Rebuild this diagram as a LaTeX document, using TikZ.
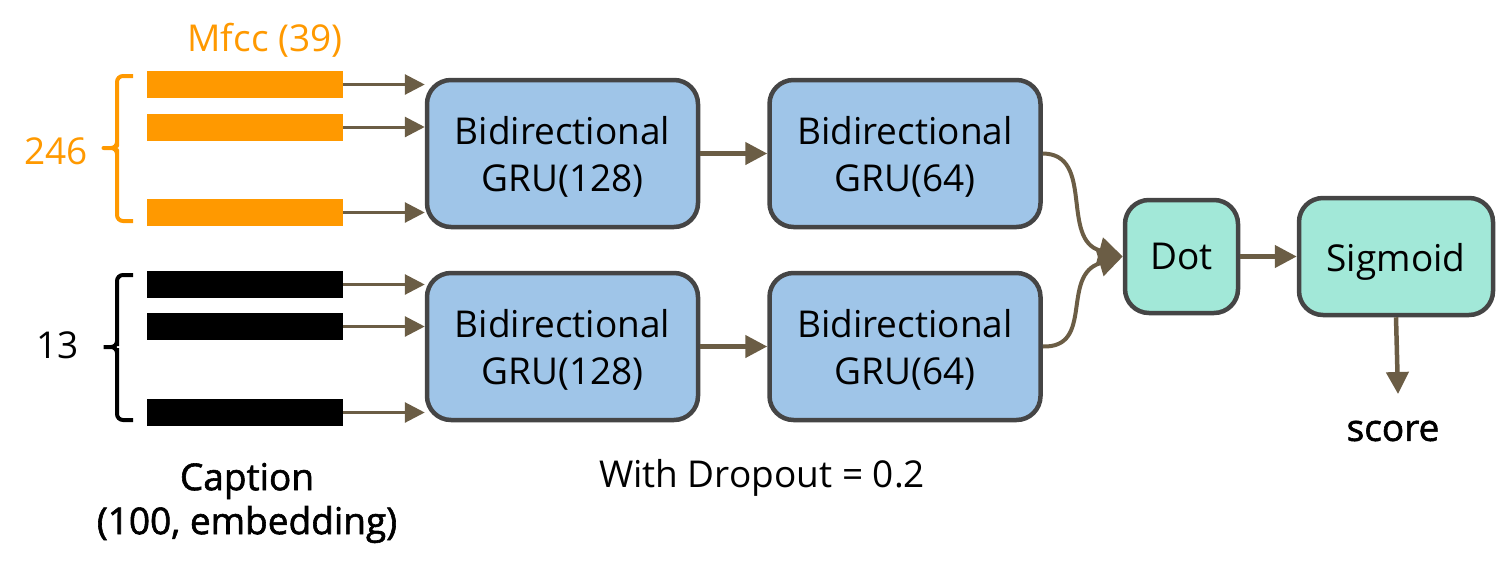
\documentclass[tikz,border=0pt]{standalone}
\usepackage{fontspec}
\setmainfont{Open Sans}
\newfontfamily\semib[FakeBold=1.6]{Open Sans}
\usetikzlibrary{arrows.meta}
\definecolor{orng}{HTML}{FF9900}
\definecolor{arr}{HTML}{6B5D45}
\definecolor{bluef}{HTML}{9FC5E8}
\definecolor{mint}{HTML}{A2E8D8}
\definecolor{bord}{HTML}{454545}
\newcommand{\twol}[2]{\raisebox{-5pt}[\height][\depth]{\begin{tabular}{@{}c@{}}#1\\[0pt]#2\end{tabular}}}
\tikzset{
  box/.style={draw=bord, line width=4.5pt, rounded corners=24pt, align=center, inner sep=0pt, font=\fontsize{37}{47}\selectfont},
  gru/.style={box, fill=bluef, minimum width=271pt, minimum height=147pt},
  bar/.style={inner sep=0pt, minimum width=196pt, minimum height=27pt},
  conn/.style={draw=arr, line width=3pt, -{Triangle[length=20pt,width=20pt]}},
  thick conn/.style={draw=arr, line width=4.5pt, -{Triangle[length=22pt,width=22pt]}},
  bigconn/.style={draw=arr, line width=4pt, -{Triangle[length=24pt,width=26pt]}},
  lbl/.style={inner sep=0pt, font=\fontsize{37}{47}\selectfont, align=center},
}
\begin{document}
\begin{tikzpicture}[x=1pt,y=-1pt]
\useasboundingbox (0,0) rectangle (1498,568);
% bars
\node[bar, fill=orng] (o1) at (245,84.5) {};
\node[bar, fill=orng] (o2) at (245,127) {};
\node[bar, fill=orng] (o3) at (245,212.5) {};
\node[bar, fill=black] (k1) at (245,284.5) {};
\node[bar, fill=black] (k2) at (245,326.5) {};
\node[bar, fill=black] (k3) at (245,412.5) {};
% boxes
\node[gru] (a1) at (562.5,153.5) {\twol{Bidirectional}{GRU(128)}};
\node[gru] (a2) at (905,153.5) {\twol{Bidirectional}{GRU(64)}};
\node[gru] (b1) at (562.5,346.5) {\twol{Bidirectional}{GRU(128)}};
\node[gru] (b2) at (905,346.5) {\twol{Bidirectional}{GRU(64)}};
\node[box, fill=mint, minimum width=113pt, minimum height=113pt] (dot) at (1181.5,256.5) {Dot};
\node[box, fill=mint, minimum width=194pt, minimum height=117pt] (sig) at (1396,256.5) {\raisebox{-5pt}[\height][\depth]{Sigmoid}};
% labels
\node[lbl, text=orng] (mf) at (265,40) {Mfcc (39)};
\node[lbl, text=orng, anchor=east] (n246) at (88,151) {246};
\node[lbl, anchor=east] (n13) at (79,345) {13};
\node[lbl, font=\fontsize{37}{44}\selectfont] (cap) at (247,503) {\semib Caption\\\semib(100, embedding)};
\node[lbl] (drop) at (762,478) {With Dropout = 0.2};
\node[lbl] (score) at (1393,431) {\semib score};
\coordinate (sc) at (1398,394);
% input arrows
\foreach \b/\t in {o1/a1,o2/a1,o3/a1,k1/b1,k2/b1,k3/b1}{
  \draw[conn] (\b.east) -- (\b.east -| \t.west);
}
\draw[thick conn] (a1.east) -- (a2.west);
\draw[thick conn] (b1.east) -- (b2.west);
\draw[bigconn] (a2.east) .. controls (1095,154) and (1060,240) .. (dot.west);
\draw[bigconn] (b2.east) .. controls (1095,348) and (1060,275) .. (dot.west);
\draw[thick conn] (dot.east) -- (sig.west);
\draw[thick conn] (sig.south) -- (sc);
% braces
\draw[orng, line width=4pt, line join=round, rounded corners=6pt]
  (133,76) -- (117,76) -- (117,140) -- (117,148) -- (100,148) -- (117,148) -- (117,156) -- (117,221) -- (133,221);
\draw[black, line width=4pt, rounded corners=6pt]
  (133,275) -- (117,275) -- (117,340) -- (117,347) -- (100,347) -- (117,347) -- (117,354) -- (117,420) -- (133,420);
\end{tikzpicture}
\end{document}
